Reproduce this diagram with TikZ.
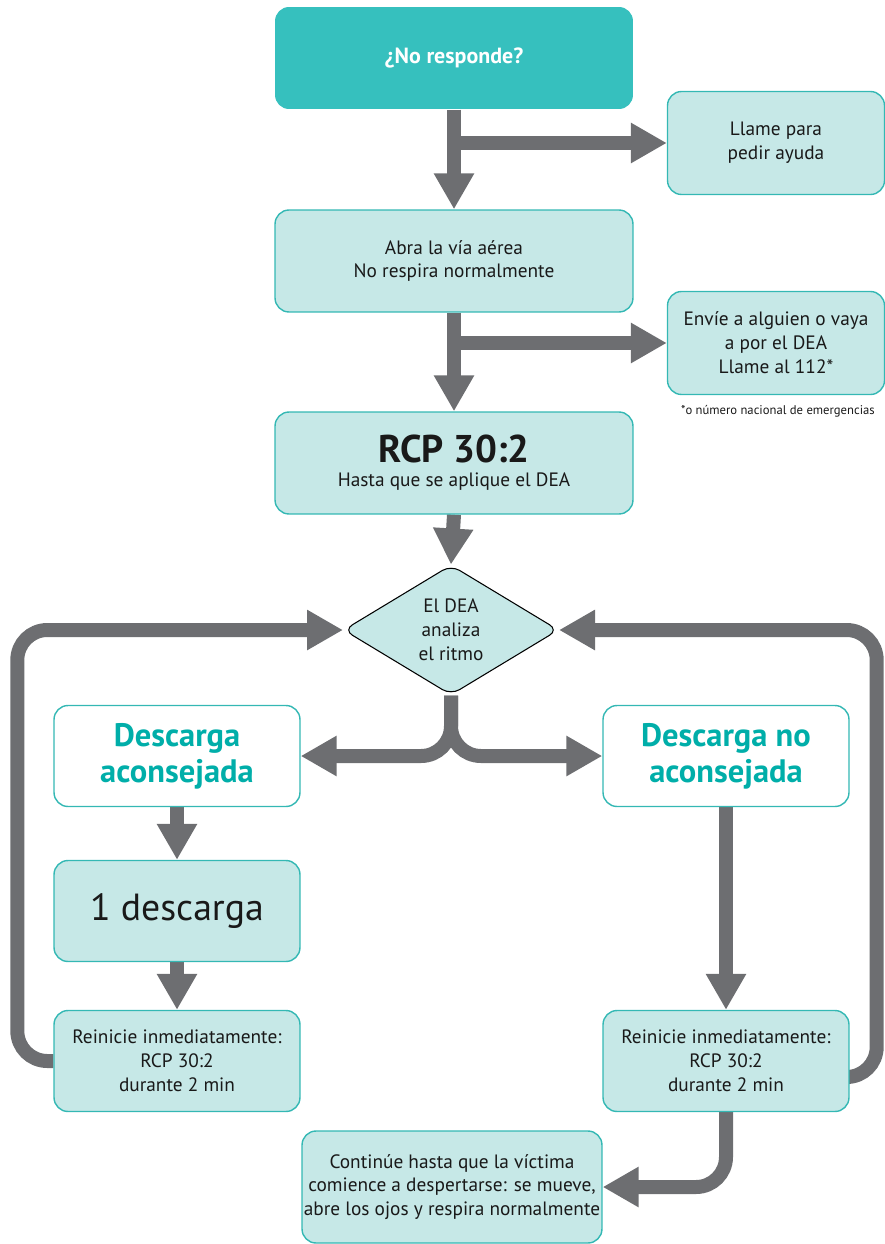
\documentclass[tikz,border=0pt]{standalone}
\usepackage{fontspec}
\setmainfont{PT Sans}
\usetikzlibrary{arrows.meta,shapes.geometric,backgrounds}
\definecolor{aedteal}{HTML}{36C0BE}
\definecolor{aedlight}{HTML}{C6E8E7}
\definecolor{aedline}{HTML}{34B8B4}
\definecolor{aedhead}{HTML}{00AEA9}
\definecolor{aedgrey}{HTML}{6D6E71}
\begin{document}
\begin{tikzpicture}[x=0.02cm,y=-0.02cm]
\useasboundingbox (0,0) rectangle (885,1244);
\tikzstyle{every node}=[align=center,font=\fontsize{11}{13.6}\selectfont,text=black!90];
\tikzstyle{box}=[draw=aedline,line width=0.8pt,fill=aedlight,rounded corners=0.28cm,minimum width=4.92cm,minimum height=2.02cm,inner sep=0pt];
\tikzstyle{wide}=[box,minimum width=7.16cm,minimum height=2.04cm];
\tikzstyle{side}=[box,minimum width=4.34cm,minimum height=2.06cm];
\tikzstyle{head}=[box,fill=white,text=aedhead,font=\fontsize{18.5}{20.5}\selectfont\bfseries];
\tikzstyle{arr}=[draw=aedgrey,line width=0.28cm,-{Triangle[width=0.76cm,length=0.72cm]},rounded corners=0.6cm];
% top column
\node[wide,fill=aedteal,draw=none,text=white,font=\fontsize{12.5}{15}\selectfont\bfseries] (q) at (454,58) {¿No responde?};
\node[side] (call) at (776,143) {Llame para\\pedir ayuda};
\node[wide] (air) at (454,261) {Abra la vía aérea\\No respira normalmente};
\node[side] (send) at (776,343) {Envíe a alguien o vaya\\a por el DEA\\Llame al 112*};
\node[font=\fontsize{7.2}{8}\selectfont] (note) at (778,411) {*o número nacional de emergencias};
\node[wide] (rcp) at (454,463) {{\fontsize{22}{25}\selectfont\bfseries RCP 30:2}\\Hasta que se aplique el DEA};
\node[diamond,draw=black,line width=0.6pt,fill=aedlight,rounded corners=0.2cm,aspect=1.64,
  minimum width=4.3cm,minimum height=2.6cm,inner sep=0pt] (dea) at (451,630) {El DEA\\analiza\\el ritmo};
% two branches
\node[head] (adv) at (177,756) {Descarga\\aconsejada};
\node[head] (noadv) at (726,756) {Descarga no\\aconsejada};
\node[box,font=\fontsize{21.5}{24}\selectfont] (one) at (177,911) {1 descarga};
\node[box] (rl) at (177,1061) {Reinicie inmediatamente:\\RCP 30:2\\durante 2 min};
\node[box] (rr) at (726,1061) {Reinicie inmediatamente:\\RCP 30:2\\durante 2 min};
\node[box,minimum width=6cm,minimum height=2.24cm] (cont) at (452,1187) {Continúe hasta que la víctima\\comience a despertarse: se mueve,\\abre los ojos y respira normalmente};
\coordinate (b1) at (451,143);
\coordinate (b2) at (451,343);
\begin{scope}[on background layer]
\draw[arr] (q.south) -- (air.north);
\draw[arr] (b1) -- (call.west);
\draw[arr] (air.south) -- (rcp.north);
\draw[arr] (b2) -- (send.west);
\draw[arr] (rcp.south) -- (dea.north);
\draw[arr] (dea.south) |- (adv.east);
\draw[arr] (dea.south) |- (noadv.west);
\draw[arr] (adv.south) -- (one.north);
\draw[arr] (one.south) -- (rl.north);
\draw[arr] (noadv.south) -- (rr.north);
\draw[arr] (rl.west) -- ++(-36,0) |- (dea.west);
\draw[arr] ([yshift=-0.32cm]rr.east) -- ++(27,0) |- (dea.east);
\draw[arr] (rr.south) |- (cont.east);
\end{scope}
\end{tikzpicture}
\end{document}
